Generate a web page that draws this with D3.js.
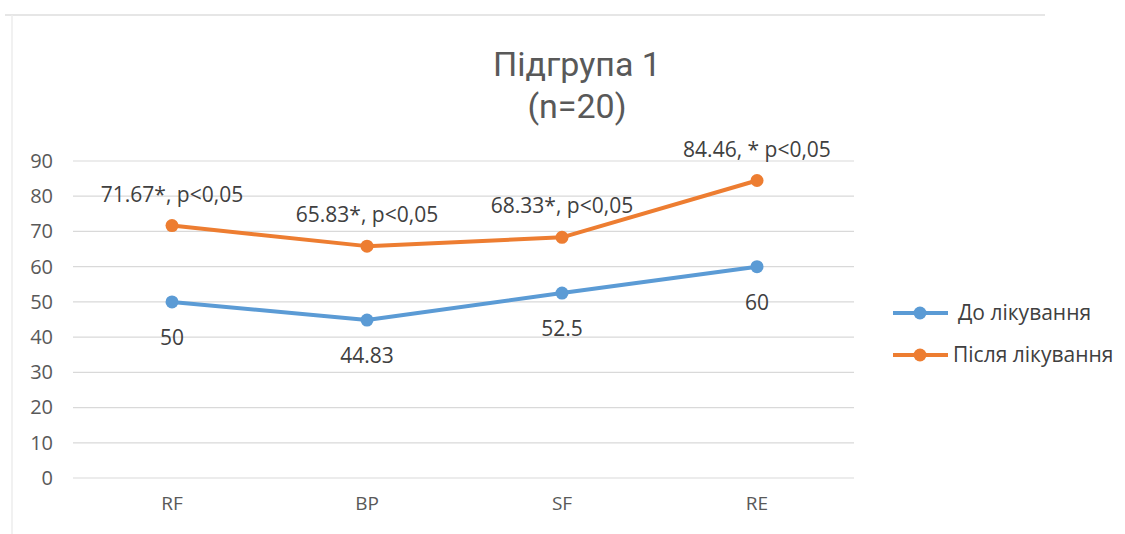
<!DOCTYPE html>
<html lang="uk">
<head>
<meta charset="UTF-8">
<title>Підгрупа 1</title>
<script src="https://cdn.jsdelivr.net/npm/d3@7.8.5/dist/d3.min.js"></script>
<style>
    body{
        margin:0;
        background:#fff;
    }
    svg{
        display:block;
        font-family:"Open Sans", "Noto Sans", sans-serif;
    }
</style>
</head>
<body>
<div id="chart"></div>
<script>
    // data
    const categories = ["RF", "BP", "SF", "RE"];
    const seriesNames = ["До лікування", "Після лікування"];
    const before = [50, 44.83, 52.5, 60];
    const after = [71.67, 65.83, 68.33, 84.46];
    const beforeLabels = ["50", "44.83", "52.5", "60"];
    const afterLabels = ["71.67*, p<0,05", "65.83*, p<0,05", "68.33*, p<0,05", "84.46, * p<0,05"];
    const yTicks = [0, 10, 20, 30, 40, 50, 60, 70, 80, 90];
    const titleLines = ["Підгрупа 1", "(n=20)"];

    const W = 1125, H = 534;
    const colors = ["#5B9BD5", "#ED7D31"];
    const textColor = "#595959";

    const svg = d3.select("#chart").append("svg")
        .attr("width", W)
        .attr("height", H);

    // faint chart frame
    svg.append("line")
        .attr("x1", 5).attr("x2", 1045).attr("y1", 15).attr("y2", 15)
        .attr("stroke", "#e6e6e6").attr("stroke-width", 2);
    svg.append("line")
        .attr("x1", 12).attr("x2", 12).attr("y1", 15).attr("y2", 534)
        .attr("stroke", "#ececec").attr("stroke-width", 1.5);

    const x = d3.scaleBand()
        .domain(categories)
        .range([74.5, 854.5]);

    const y = d3.scaleLinear()
        .domain([0, 90])
        .range([478, 161]);

    const cx = d => x(d) + x.bandwidth() / 2;

    // gridlines
    svg.append("g")
        .selectAll("line")
        .data(yTicks)
        .join("line")
        .attr("x1", 73).attr("x2", 854)
        .attr("y1", d => y(d)).attr("y2", d => y(d))
        .attr("stroke", "#d9d9d9")
        .attr("stroke-width", 1.2);

    // y axis
    const yAxis = svg.append("g")
        .attr("transform", "translate(58,0)")
        .call(d3.axisLeft(y).tickValues(yTicks).tickSize(0).tickPadding(5));
    yAxis.select(".domain").remove();
    yAxis.selectAll("text")
        .attr("font-size", 20)
        .attr("font-family", "Open Sans, sans-serif")
        .attr("fill", textColor);

    // x axis
    const xAxis = svg.append("g")
        .attr("transform", "translate(0,491)")
        .call(d3.axisBottom(x).tickSize(0).tickPadding(5));
    xAxis.select(".domain").remove();
    xAxis.selectAll("text")
        .attr("font-size", 19)
        .attr("font-family", "Open Sans, sans-serif")
        .attr("fill", textColor);

    // lines
    const series = [before, after];
    const line = d3.line()
        .x((d, i) => cx(categories[i]))
        .y(d => y(d));

    series.forEach((vals, s) => {
        svg.append("path")
            .datum(vals)
            .attr("fill", "none")
            .attr("stroke", colors[s])
            .attr("stroke-width", 4)
            .attr("stroke-linejoin", "round")
            .attr("d", line);

        svg.append("g")
            .selectAll("circle")
            .data(vals)
            .join("circle")
            .attr("cx", (d, i) => cx(categories[i]))
            .attr("cy", d => y(d))
            .attr("r", 6.5)
            .attr("fill", colors[s]);
    });

    // data labels
    svg.append("g")
        .selectAll("text")
        .data(after)
        .join("text")
        .attr("x", (d, i) => cx(categories[i]))
        .attr("y", d => y(d) - 24)
        .attr("text-anchor", "middle")
        .attr("font-size", 21)
        .attr("fill", "#404040")
        .text((d, i) => afterLabels[i]);

    svg.append("g")
        .selectAll("text")
        .data(before)
        .join("text")
        .attr("x", (d, i) => cx(categories[i]))
        .attr("y", d => y(d) + 43)
        .attr("text-anchor", "middle")
        .attr("font-size", 21)
        .attr("fill", "#404040")
        .text((d, i) => beforeLabels[i]);

    // title
    svg.append("g")
        .selectAll("text")
        .data(titleLines)
        .join("text")
        .attr("x", 577)
        .attr("y", (d, i) => 76 + i * 42)
        .attr("text-anchor", "middle")
        .attr("font-size", 34)
        .attr("font-family", "Liberation Sans Narrow, Roboto, sans-serif")
        .attr("fill", textColor)
        .text(d => d);

    // legend
    const legend = svg.append("g");
    seriesNames.forEach((name, s) => {
        const ly = 313 + s * 42;
        legend.append("line")
            .attr("x1", 893).attr("x2", 948)
            .attr("y1", ly).attr("y2", ly)
            .attr("stroke", colors[s])
            .attr("stroke-width", 4);
        legend.append("circle")
            .attr("cx", 920).attr("cy", ly).attr("r", 6.5)
            .attr("fill", colors[s]);
        legend.append("text")
            .attr("x", s === 0 ? 958 : 953)
            .attr("y", ly + 7)
            .attr("font-size", 21)
            .attr("fill", "#404040")
            .text(name);
    });
</script>
</body>
</html>
